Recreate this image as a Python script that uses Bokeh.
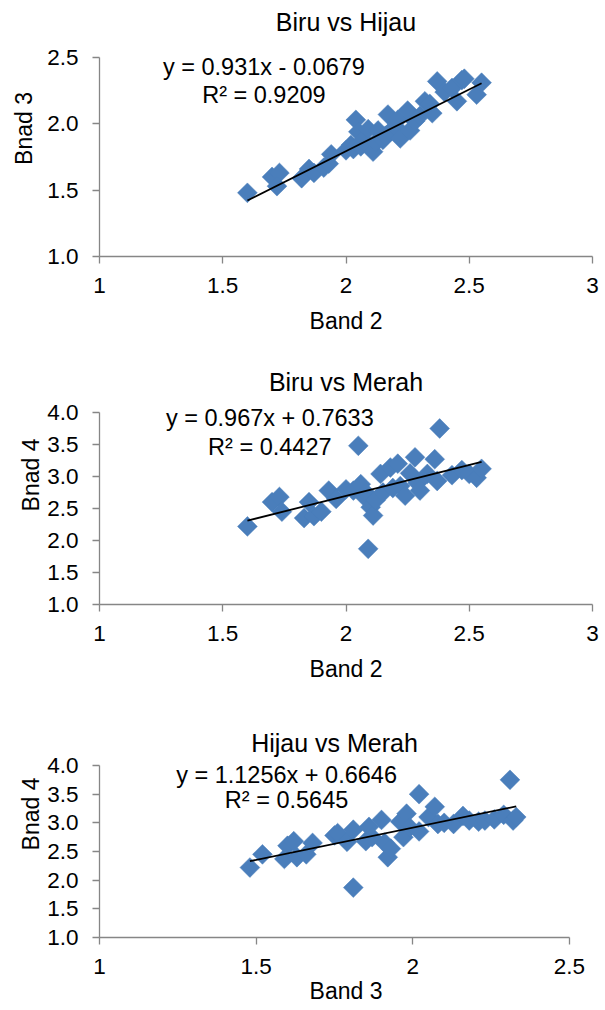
import math
from bokeh.plotting import figure
from bokeh.layouts import column
from bokeh.models import Label, FixedTicker, Range1d, CustomJSTickFormatter
from bokeh.embed import file_html
from bokeh.resources import INLINE

# ---------------- data ----------------
# Chart 1: Biru vs Hijau (Band 2 vs Band 3)
x1 = [1.60, 1.70, 1.73, 1.72, 1.82, 1.85, 1.87, 1.91, 1.93, 1.94, 2.00, 2.02, 2.03, 2.04, 2.05,
      2.06, 2.07, 2.09, 2.10, 2.11, 2.12, 2.13, 2.15, 2.16, 2.17, 2.18, 2.20, 2.21, 2.22, 2.25,
      2.26, 2.28, 2.30, 2.32, 2.34, 2.35, 2.37, 2.40, 2.43, 2.45, 2.47, 2.48, 2.53, 2.55]
y1 = [1.48, 1.60, 1.63, 1.53, 1.59, 1.66, 1.63, 1.67, 1.70, 1.77, 1.80, 1.84, 1.81, 2.03, 1.94,
      1.83, 1.88, 1.96, 1.82, 1.79, 1.86, 1.95, 1.88, 1.91, 2.07, 1.94, 1.98, 2.03, 1.89, 2.10,
      1.95, 2.02, 2.06, 2.17, 2.15, 2.08, 2.32, 2.24, 2.27, 2.17, 2.33, 2.34, 2.22, 2.31]
fit1 = (0.931, -0.0679)
eq1 = ["y = 0.931x - 0.0679", "R² = 0.9209"]

# Chart 2: Biru vs Merah (Band 2 vs Band 4)
x2 = [1.60, 1.70, 1.73, 1.74, 1.83, 1.85, 1.87, 1.90, 1.93, 1.96, 2.00, 2.03, 2.05, 2.06, 2.07,
      2.08, 2.09, 2.10, 2.11, 2.12, 2.14, 2.15, 2.18, 2.19, 2.21, 2.22, 2.24, 2.26, 2.28, 2.29,
      2.30, 2.33, 2.36, 2.37, 2.38, 2.43, 2.47, 2.50, 2.53, 2.55]
y2 = [2.22, 2.60, 2.68, 2.45, 2.35, 2.60, 2.38, 2.45, 2.78, 2.65, 2.80, 2.78, 3.48, 2.88, 2.70,
      2.75, 1.87, 2.52, 2.39, 2.63, 3.04, 2.75, 3.14, 2.82, 3.20, 2.85, 2.70, 3.05, 3.30, 2.90,
      2.78, 3.04, 3.27, 2.93, 3.75, 3.02, 3.10, 3.04, 2.98, 3.12]
fit2 = (0.967, 0.7633)
eq2 = ["y = 0.967x + 0.7633", "R² = 0.4427"]

# Chart 3: Hijau vs Merah (Band 3 vs Band 4)
x3 = [1.48, 1.52, 1.59, 1.60, 1.62, 1.63, 1.66, 1.68, 1.75, 1.76, 1.79, 1.81, 1.81, 1.85, 1.86,
      1.87, 1.90, 1.91, 1.92, 1.93, 1.96, 1.97, 1.98, 1.99, 2.02, 2.02, 2.05, 2.07, 2.08, 2.10,
      2.13, 2.16, 2.18, 2.21, 2.23, 2.26, 2.29, 2.31, 2.32, 2.33]
y3 = [2.22, 2.45, 2.37, 2.60, 2.68, 2.40, 2.45, 2.65, 2.78, 2.82, 2.67, 2.88, 1.87, 2.68, 2.93,
      2.75, 3.05, 2.65, 2.40, 2.55, 3.02, 2.75, 3.16, 2.92, 3.50, 2.85, 3.10, 3.28, 2.98, 3.00,
      2.98, 3.12, 3.04, 3.02, 3.04, 3.06, 3.14, 3.75, 3.04, 3.10]
fit3 = (1.1256, 0.6646)
eq3 = ["y = 1.1256x + 0.6646", "R² = 0.5645"]

titles = ["Biru vs Hijau", "Biru vs Merah", "Hijau vs Merah"]
xticks_a = [1, 1.5, 2, 2.5, 3]
xticks_b = [1, 1.5, 2, 2.5]
yticks_a = [1.0, 1.5, 2.0, 2.5]
yticks_b = [1.0, 1.5, 2.0, 2.5, 3.0, 3.5, 4.0]

FONT = "Liberation Sans"
BLUE = "#4A7EBB"
AXIS = "#868686"
W = 605
LEFT = 99
FRAME_W = 493


def make_chart(title, x, y, fit, eq, xlab, ylab, xticks, yticks, height, frame_h, axis_px_x,
               axis_px_y, title_y, eq_x, eq_y, tick_standoff, label_standoff, ylabel_standoff):
    bottom = height - frame_h
    # the frame reaches up to the top of the canvas (so texts above the axes are not clipped);
    # the axes themselves are limited to the tick range with `bounds`
    x_end = xticks[0] + (xticks[-1] - xticks[0]) * FRAME_W / axis_px_x
    y_end = yticks[0] + (yticks[-1] - yticks[0]) * frame_h / axis_px_y
    p = figure(width=W, height=height, output_backend="svg", toolbar_location=None,
               title=None,
               x_range=Range1d(xticks[0], x_end), y_range=Range1d(yticks[0], y_end),
               min_border_left=LEFT, min_border_right=W - LEFT - FRAME_W,
               min_border_top=0, min_border_bottom=bottom,
               x_axis_label=xlab, y_axis_label=ylab)
    p.outline_line_color = None
    p.grid.visible = False
    for ax in (p.xaxis[0], p.yaxis[0]):
        ax.axis_line_color = AXIS
        ax.axis_line_width = 1.3
        ax.major_tick_line_color = AXIS
        ax.major_tick_line_width = 1.3
        ax.major_tick_out = 7
        ax.major_tick_in = 0
        ax.minor_tick_line_color = None
        ax.major_label_text_font = FONT
        ax.major_label_text_font_size = "22.5px"
        ax.major_label_text_color = "black"
        ax.axis_label_text_font = FONT
        ax.axis_label_text_font_size = "23px"
        ax.axis_label_text_font_style = "normal"
        ax.axis_label_text_color = "black"
    p.xaxis.bounds = (xticks[0], xticks[-1])
    p.yaxis.bounds = (yticks[0], yticks[-1])
    p.xaxis.ticker = FixedTicker(ticks=xticks)
    p.yaxis.ticker = FixedTicker(ticks=yticks)
    p.xaxis.formatter = CustomJSTickFormatter(code="return tick.toString();")
    p.yaxis.formatter = CustomJSTickFormatter(code="return tick.toFixed(1);")
    p.xaxis.major_label_standoff = tick_standoff
    p.xaxis.axis_label_standoff = label_standoff
    p.yaxis.major_label_standoff = 14
    p.yaxis.axis_label_standoff = ylabel_standoff

    p.scatter(x, y, marker="square", size=14, angle=math.pi / 4,
              fill_color=BLUE, line_color=BLUE, line_width=0.5)
    xa, xb = min(x), max(x)
    m, b = fit
    p.line([xa, xb], [m * xa + b, m * xb + b], line_color="black", line_width=1.8)

    x_mid = (xticks[0] + xticks[-1]) / 2
    p.add_layout(Label(x=x_mid, y=title_y, text=title, text_align="center",
                       text_baseline="middle", text_font=FONT,
                       text_font_size="25px", text_color="black"))
    for txt, yy in zip(eq, eq_y):
        p.add_layout(Label(x=eq_x, y=yy, text=txt, text_align="center",
                           text_baseline="middle", text_font=FONT,
                           text_font_size="23.5px", text_color="black"))
    return p


p1 = make_chart(titles[0], x1, y1, fit1, eq1, "Band 2", "Bnad 3", xticks_a, yticks_a,
                345, 256, 493, 199, 2.765, 1.667, [2.432, 2.221], 14, 12, 7)
p2 = make_chart(titles[1], x2, y2, fit2, eq2, "Band 2", "Bnad 4", xticks_a, yticks_b,
                345, 259, 493, 192, 4.469, 1.691, [3.914, 3.461], 14, 12, 0)
p3 = make_chart(titles[2], x3, y3, fit3, eq3, "Band 3", "Bnad 4", xticks_b, yticks_b,
                320, 247, 470, 172, 4.384, 1.597, [3.843, 3.390], 14, 1, 0)

layout = column(p1, p2, p3, spacing=0)
open("out.html", "w").write(file_html(layout, INLINE))
